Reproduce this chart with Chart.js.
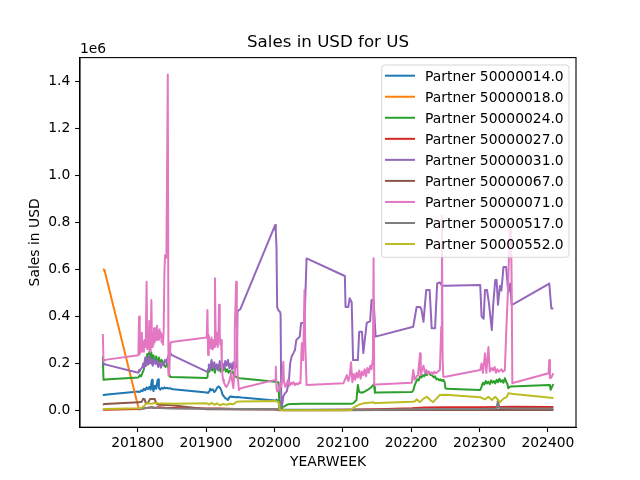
<!DOCTYPE html>
<html><head><meta charset="utf-8">
<script src="https://cdn.jsdelivr.net/npm/chart.js@4.4.1/dist/chart.umd.min.js"></script>
<style>html,body{margin:0;padding:0;background:#fff}canvas{display:block}</style>
</head><body>
<canvas id="c" width="640" height="480"></canvas>
<script>
// ---- data: [YEARWEEK, sales in USD] ----
const partnerNames = ['Partner 50000014.0','Partner 50000018.0','Partner 50000024.0','Partner 50000027.0','Partner 50000031.0','Partner 50000067.0','Partner 50000071.0','Partner 50000517.0','Partner 50000552.0'];

const p14 = [[201749,65000],[201750,66000],[201751,66000],[201752,67000],
[201801,80000],[201803,78000],[201805,85000],[201807,82000],[201809,92000],[201811,86000],[201813,98000],[201815,90000],[201817,100000],[201819,88000],[201820,118000],[201821,130000],[201822,95000],[201823,82000],[201825,105000],[201827,92000],[201829,128000],[201830,132000],[201831,95000],[201833,88000],[201835,96000],[201837,92000],[201839,98000],[201841,94000],[201843,96000],[201845,93000],[201847,95000],[201849,92000],[201852,90000],
[201901,76000],[201903,74000],[201905,82000],[201906,92000],[201908,86000],[201910,90000],[201912,78000],[201914,84000],[201916,96000],[201918,102000],[201920,98000],[201922,88000],[201924,68000],[201926,60000],[201928,52000],[201930,50000],[201932,44000],[201934,56000],[201936,60000],[201938,57000],[201940,58000],[201943,56000],[201946,57000],[201949,56000],[201952,55000],
[202001,42000],[202003,45000],[202006,40000],[202007,10000],[202009,4000],[202015,3000],[202030,2500],[202047,2500],
[202101,2500],[202126,3000],[202150,3000],[202201,3000],[202226,2500],[202250,2500],[202301,2500],[202326,2500],[202350,2500],[202401,2500],[202408,2500]];

const p18 = [[201749,600000],[201750,600000],[201751,597000],[201752,590000],[201801,12000],[201802,6000],[201803,4000],[201804,3000]];

const p24 = [[201749,230000],[201750,130000],[201751,130000],[201752,132000],
[201801,140000],[201803,150000],[201805,145000],[201807,160000],[201809,175000],[201811,210000],[201812,190000],[201814,240000],[201815,205000],[201817,250000],[201818,215000],[201820,245000],[201821,200000],[201823,235000],[201825,205000],[201827,230000],[201829,195000],[201831,225000],[201833,200000],[201835,215000],[201837,205000],[201839,190000],[201841,185000],[201843,200000],[201845,180000],[201846,150000],[201847,143000],[201850,142000],
[201901,138000],[201902,140000],[201903,175000],[201905,165000],[201907,190000],[201909,170000],[201911,185000],[201913,160000],[201915,195000],[201917,175000],[201919,190000],[201921,165000],[201923,180000],[201925,170000],[201927,185000],[201929,165000],[201931,175000],[201933,160000],[201935,170000],[201937,160000],[201939,165000],[201941,150000],[201943,145000],[201945,140000],[201948,138000],[201950,137000],
[202001,122000],[202003,121000],[202006,120000],[202007,40000],[202008,3000],[202010,5000],[202012,14000],[202014,16000],[202017,22000],[202020,26000],[202025,27000],[202030,27000],[202040,28000],[202047,28000],
[202101,28000],[202108,28000],[202112,28000],[202115,30000],[202120,44000],[202122,108000],[202124,78000],[202128,75000],[202132,80000],[202136,87000],[202140,95000],[202142,100000],[202145,110000],[202146,100000],[202147,75000],[202150,76000],
[202201,78000],[202203,85000],[202205,105000],[202207,120000],[202209,132000],[202211,128000],[202213,145000],[202215,140000],[202217,150000],[202219,145000],[202221,155000],[202223,150000],[202225,165000],[202227,155000],[202229,150000],[202231,148000],[202233,140000],[202235,145000],[202237,132000],[202239,135000],[202241,128000],[202243,132000],[202245,125000],[202247,130000],[202249,120000],[202250,95000],[202252,92000],
[202301,87000],[202303,100000],[202305,118000],[202307,110000],[202309,125000],[202311,115000],[202313,122000],[202315,112000],[202317,128000],[202319,118000],[202321,125000],[202323,115000],[202325,130000],[202327,120000],[202329,135000],[202331,122000],[202333,128000],[202335,118000],[202337,137000],[202339,122000],[202341,110000],[202342,94000],[202344,100000],[202346,102000],
[202402,108000],[202403,107000],[202404,88000],[202406,100000],[202408,112000]];

const p27 = [[201749,3000],[201752,3000],[201801,6000],[201810,9000],[201820,14000],[201825,10000],[201830,13000],[201840,11000],[201850,10000],[201901,8000],[201920,8000],[201940,6000],[201950,6000],[202001,5000],[202010,2000],[202047,2000],[202101,3000],[202150,5000],[202201,9000],[202220,12000],[202250,13000],[202301,13000],[202330,15000],[202350,16000],[202402,15000],[202408,15000]];

const p31 = [[201749,205000],[201750,200000],[201751,198000],[201752,196000],
[201801,160000],[201802,172000],[201803,168000],[201805,178000],[201807,185000],[201808,200000],[201809,182000],[201811,225000],[201812,190000],[201814,215000],[201815,195000],[201817,235000],[201818,200000],[201820,215000],[201822,190000],[201824,220000],[201826,198000],[201828,212000],[201830,185000],[201832,205000],[201834,182000],[201836,200000],[201838,192000],[201840,215000],[201842,205000],[201844,225000],[201846,240000],[201848,243000],[201850,235000],
[201901,165000],[201903,170000],[201904,195000],[201906,175000],[201908,215000],[201910,180000],[201912,205000],[201914,175000],[201916,195000],[201918,170000],[201920,210000],[201922,185000],[201924,200000],[201926,175000],[201928,210000],[201930,190000],[201932,215000],[201934,180000],[201936,200000],[201938,175000],[201940,205000],[201942,170000],[201944,200000],[201945,185000],[201946,420000],[201948,427000],[201950,430000],
[202001,789000],[202002,760000],[202003,697000],[202004,440000],[202006,425000],[202008,420000],[202009,410000],[202010,40000],[202011,16000],[202013,60000],[202016,75000],[202018,80000],[202021,120000],[202023,200000],[202025,228000],[202028,245000],[202030,257000],[202032,300000],[202035,308000],[202037,314000],[202039,372000],[202044,372000],[202047,647000],
[202103,572000],[202104,440000],[202108,440000],[202110,477000],[202113,460000],[202115,214000],[202122,214000],[202124,335000],[202128,335000],[202130,244000],[202135,372000],[202140,380000],[202142,470000],[202145,470000],[202148,314000],
[202203,356000],[202208,440000],[202213,440000],[202215,430000],[202218,377000],[202222,512000],[202227,512000],[202230,350000],[202235,350000],[202238,540000],[202242,545000],[202245,530000],[202250,530000],
[202301,534000],[202303,400000],[202306,390000],[202308,512000],[202311,512000],[202314,450000],[202318,342000],[202320,450000],[202323,555000],[202325,555000],[202327,450000],[202330,530000],[202332,510000],[202335,610000],[202339,610000],[202342,500000],[202345,540000],[202347,448000],
[202402,540000],[202405,434000],[202408,434000]];

const p67 = [[201749,25000],[201752,27000],[201801,35000],[201806,37000],[201808,50000],[201810,48000],[201812,30000],[201815,32000],[201818,48000],[201825,48000],[201827,30000],[201830,24000],[201840,23000],[201850,22000],[201901,5000],[201920,5000],[201950,4000],[202001,4000],[202008,1000],[202047,1000],[202101,1000],[202150,1500],[202201,2000],[202250,2000],[202301,2000],[202350,2000],[202408,2000]];

const p71 = [[201749,325000],[201750,210000],[201751,212000],[201752,215000],
[201801,235000],[201802,400000],[201803,240000],[201804,280000],[201805,250000],[201806,330000],[201807,260000],[201808,290000],[201809,250000],[201810,300000],[201811,270000],[201812,320000],[201813,548000],[201814,260000],[201815,300000],[201816,270000],[201817,380000],[201818,250000],[201819,300000],[201820,470000],[201821,270000],[201822,320000],[201823,280000],[201824,350000],[201825,290000],[201826,330000],[201827,300000],[201828,360000],[201829,310000],[201830,340000],[201831,300000],[201832,345000],[201833,310000],[201834,330000],[201835,290000],[201836,320000],[201837,280000],[201838,340000],[201839,580000],[201840,660000],[201842,650000],[201844,1430000],[201845,150000],[201846,150000],[201848,290000],[201850,290000],[201852,292000],
[201901,310000],[201902,427000],[201903,236000],[201904,320000],[201905,280000],[201906,300000],[201907,264000],[201908,310000],[201909,260000],[201910,286000],[201911,300000],[201912,270000],[201913,562000],[201914,320000],[201915,280000],[201916,330000],[201917,270000],[201918,300000],[201919,450000],[201920,320000],[201921,280000],[201922,300000],[201923,200000],[201924,150000],[201925,130000],[201926,120000],[201928,105000],[201930,100000],[201932,112000],[201934,125000],[201936,150000],[201937,165000],[201938,130000],[201940,95000],[201941,150000],[201942,342000],[201944,548000],[201945,400000],[201946,160000],[201948,87000],[201950,93000],[201952,95000],
[202001,130000],[202002,186000],[202003,95000],[202004,80000],[202006,85000],[202008,116000],[202010,100000],[202012,150000],[202013,207000],[202014,120000],[202016,100000],[202018,116000],[202020,130000],[202022,105000],[202024,118000],[202026,112000],[202028,120000],[202030,108000],[202032,115000],[202034,110000],[202036,118000],[202038,115000],[202040,286000],[202042,214000],[202044,512000],[202045,300000],[202047,108000],
[202101,116000],[202103,130000],[202106,150000],[202108,125000],[202110,145000],[202112,205000],[202114,120000],[202116,155000],[202118,130000],[202120,160000],[202122,140000],[202124,170000],[202126,135000],[202128,165000],[202130,150000],[202132,175000],[202134,145000],[202136,180000],[202138,160000],[202140,190000],[202142,175000],[202144,220000],[202145,648000],[202146,108000],[202149,110000],
[202201,118000],[202203,172000],[202205,130000],[202208,145000],[202210,150000],[202213,243000],[202214,150000],[202216,175000],[202218,190000],[202220,160000],[202222,172000],[202224,155000],[202226,165000],[202228,158000],[202230,162000],[202232,155000],[202234,165000],[202236,158000],[202238,162000],[202240,168000],[202242,172000],[202244,356000],[202245,830000],[202246,214000],[202247,143000],[202250,143000],
[202301,172000],[202303,200000],[202305,160000],[202308,243000],[202310,160000],[202313,270000],[202315,165000],[202318,180000],[202320,170000],[202322,185000],[202324,160000],[202326,175000],[202328,165000],[202330,170000],[202332,175000],[202334,165000],[202337,170000],[202339,328000],[202342,540000],[202344,767000],[202346,770000],[202347,540000],[202348,115000],[202350,118000],
[202401,158000],[202402,214000],[202403,137000],[202405,140000],[202408,158000]];

const p517 = [[201801,4000],[201810,9000],[201820,12000],[201830,10000],[201850,8000],[201901,7000],[201950,6000],[202001,6000],[202010,2000],[202047,2000],[202101,2000],[202150,3000],[202201,5000],[202250,6000],[202301,6000],[202325,8000],[202327,45000],[202329,10000],[202350,8000],[202408,8000]];

const p552 = [[201749,5000],[201752,6000],[201801,9000],[201805,10000],[201810,20000],[201813,30000],[201820,28000],[201825,32000],[201830,30000],[201840,29000],[201850,28000],[201901,30000],[201905,25000],[201908,32000],[201912,24000],[201916,30000],[201920,22000],[201925,27000],[201930,24000],[201935,28000],[201940,26000],[201945,37000],[201950,38000],[202001,40000],[202004,38000],[202006,36000],[202008,2000],[202020,1000],[202047,1000],[202101,1000],[202112,1500],[202114,8000],[202118,16000],[202124,25000],[202130,30000],[202138,33000],[202145,35000],[202147,30000],[202150,32000],[202201,37000],[202205,38000],[202208,47000],[202213,35000],[202218,50000],[202223,58000],[202228,44000],[202232,35000],[202237,50000],[202242,66000],[202250,67000],[202301,56000],[202308,47000],[202313,58000],[202318,44000],[202323,58000],[202330,35000],[202335,50000],[202340,58000],[202342,73000],[202350,70000],[202408,53000]];

const xTickValues = [201800,201900,202000,202100,202200,202300,202400];
const yTickValues = [0,200000,400000,600000,800000,1000000,1200000,1400000];

// ---- styling ----
const seriesList = [p14,p18,p24,p27,p31,p67,p71,p517,p552];
const palette = ['#1f77b4','#ff7f0e','#2ca02c','#d62728','#9467bd','#8c564b','#e377c2','#7f7f7f','#bcbd22'];
const FONT = 'DejaVu Sans';
const FS = 13.89;

Chart.defaults.font.family = FONT;
Chart.defaults.color = '#000';

const datasets = seriesList.map((s, i) => ({
  label: partnerNames[i],
  data: s.map(p => ({x: p[0], y: p[1]})),
  borderColor: palette[i],
  backgroundColor: palette[i],
  borderWidth: 2,
  pointRadius: 0,
  tension: 0,
  fill: false,
  borderJoinStyle: 'round',
  order: seriesList.length - 1 - i
}));

const decor = {
  id: 'decor',
  afterDraw(chart) {
    const ctx = chart.ctx;
    const a = chart.chartArea;
    ctx.save();
    // frame
    ctx.strokeStyle = '#000';
    ctx.lineWidth = 1.1;
    ctx.strokeRect(a.left, a.top, a.right - a.left, a.bottom - a.top);
    // offset text
    ctx.fillStyle = '#000';
    ctx.font = FS + 'px "' + FONT + '"';
    ctx.textAlign = 'left';
    ctx.textBaseline = 'alphabetic';
    ctx.fillText('1e6', a.left, 53.3);
    // legend
    const lx = 381.7, ly = 65, lw = 187.3, lh = 192.3, r = 3;
    ctx.globalAlpha = 0.8;
    ctx.beginPath();
    ctx.moveTo(lx + r, ly);
    ctx.arcTo(lx + lw, ly, lx + lw, ly + lh, r);
    ctx.arcTo(lx + lw, ly + lh, lx, ly + lh, r);
    ctx.arcTo(lx, ly + lh, lx, ly, r);
    ctx.arcTo(lx, ly, lx + lw, ly, r);
    ctx.closePath();
    ctx.fillStyle = '#fff';
    ctx.fill();
    ctx.strokeStyle = '#cccccc';
    ctx.lineWidth = 1;
    ctx.stroke();
    ctx.globalAlpha = 1;
    chart.data.datasets.forEach((d, i) => {
      const y = 75.7 + i * 21.04;
      ctx.strokeStyle = d.borderColor;
      ctx.lineWidth = 2;
      ctx.beginPath();
      ctx.moveTo(385, y);
      ctx.lineTo(415, y);
      ctx.stroke();
      ctx.fillStyle = '#000';
      ctx.fillText(d.label, 425, y + 5.1);
    });
    ctx.restore();
  }
};

new Chart(document.getElementById('c'), {
  type: 'line',
  data: { datasets },
  options: {
    responsive: false,
    animation: false,
    devicePixelRatio: 1,
    layout: { padding: { left: 0, right: 64, top: 0, bottom: 0 } },
    plugins: {
      legend: { display: false },
      tooltip: { enabled: false },
      title: {
        display: true,
        text: 'Sales in USD for US',
        fullSize: false,
        color: '#000',
        font: { size: 16.67, weight: 'normal', family: FONT },
        padding: { top: 33, bottom: 4.6 }
      }
    },
    scales: {
      x: {
        type: 'linear',
        min: 201715.6,
        max: 202441.1,
        afterBuildTicks: s => { s.ticks = xTickValues.map(v => ({ value: v })); },
        afterFit: s => { s.height = 52.8; },
        ticks: { autoSkip: false, maxRotation: 0, color: '#000', font: { size: FS }, padding: 3, callback: v => String(v) },
        grid: { drawOnChartArea: false, drawTicks: true, tickLength: 4.86, color: '#000', tickWidth: 1.1 },
        border: { display: true, color: '#000', width: 1.1 },
        title: { display: true, text: 'YEARWEEK', color: '#000', font: { size: FS }, padding: { top: 0, bottom: 9.7 } }
      },
      y: {
        type: 'linear',
        min: -71500,
        max: 1501500,
        afterBuildTicks: s => { s.ticks = yTickValues.map(v => ({ value: v })); },
        afterFit: s => { s.width = 80; },
        ticks: { color: '#000', font: { size: FS }, padding: 4.86, callback: v => (v / 1e6).toFixed(1) },
        grid: { drawOnChartArea: false, drawTicks: true, tickLength: 4.86, color: '#000', tickWidth: 1.1 },
        border: { display: true, color: '#000', width: 1.1 },
        title: { display: true, text: 'Sales in USD', color: '#000', font: { size: FS }, padding: { top: 26.7, bottom: 0 } }
      }
    }
  },
  plugins: [decor]
});
</script>
</body></html>
